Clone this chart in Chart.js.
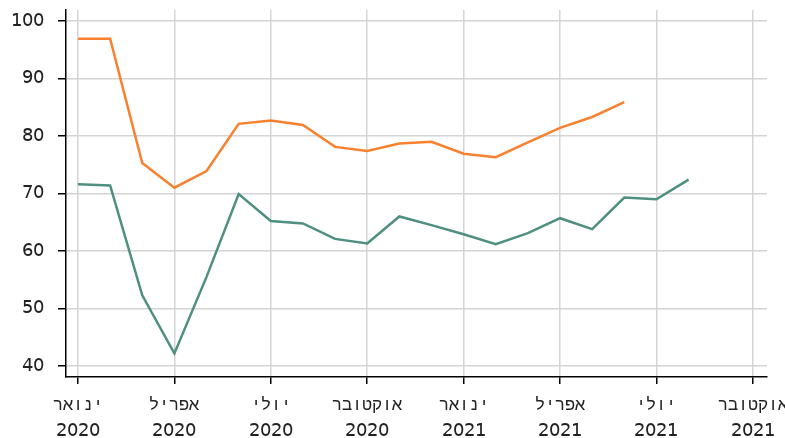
<!DOCTYPE html>
<html>
<head>
<meta charset="utf-8">
<script src="https://cdn.jsdelivr.net/npm/chart.js@4/dist/chart.umd.min.js"></script>
<style>
  /* Latin digits from DejaVu Sans, Hebrew letters from a monospaced face */
  @font-face {
    font-family: 'AxisFont';
    src: local('DejaVu Sans'), local('DejaVuSans');
    unicode-range: U+0000-024F;
  }
  @font-face {
    font-family: 'AxisFont';
    src: local('Liberation Mono'), local('LiberationMono');
    unicode-range: U+0590-05FF;
    size-adjust: 97%;
  }
  html, body { margin: 0; padding: 0; background: #fff; }
  #wrap { width: 785px; height: 438px; }
</style>
</head>
<body>
<div id="wrap"><canvas id="c" width="785" height="438"></canvas></div>
<script>
// Monthly observations, January 2020 onward (index 0 = January 2020)
const months = [
  '2020-01','2020-02','2020-03','2020-04','2020-05','2020-06','2020-07','2020-08','2020-09','2020-10','2020-11','2020-12',
  '2021-01','2021-02','2021-03','2021-04','2021-05','2021-06','2021-07','2021-08'
];
const orangeSeries = [96.9, 96.9, 75.3, 71.0, 73.9, 82.1, 82.7, 81.9, 78.1, 77.4, 78.7, 79.0, 76.9, 76.3, 78.9, 81.4, 83.3, 85.9];
const greenSeries  = [71.6, 71.4, 52.3, 42.2, 55.5, 69.9, 65.2, 64.8, 62.1, 61.3, 66.0, 64.5, 62.9, 61.2, 63.1, 65.7, 63.8, 69.3, 69.0, 72.4];

// Quarter ticks on the time axis
const xTickIndex  = [0, 3, 6, 9, 12, 15, 18, 21];
const xTickMonth  = ['ינואר', 'אפריל', 'יולי', 'אוקטובר', 'ינואר', 'אפריל', 'יולי', 'אוקטובר'];
const xTickYear   = ['2020', '2020', '2020', '2020', '2021', '2021', '2021', '2021'];
const yTicks      = [40, 50, 60, 70, 80, 90, 100];

const toPoints = arr => arr.map((v, i) => ({ x: i, y: v }));

const font = { family: '"AxisFont", "DejaVu Sans", sans-serif', size: 18, lineHeight: 1.45 };

// Fixed axis sizes, no extra room reserved for overhanging tick labels
const noPad = s => { s.paddingTop = 0; s.paddingBottom = 0; s.paddingLeft = 0; s.paddingRight = 0; };

function draw() {
  new Chart(document.getElementById('c'), {
    type: 'line',
    data: {
      datasets: [
        {
          data: toPoints(orangeSeries),
          borderColor: '#f7812f',
          borderWidth: 2.5,
          pointRadius: 0,
          tension: 0,
          fill: false
        },
        {
          data: toPoints(greenSeries),
          borderColor: '#4f8f80',
          borderWidth: 2.5,
          pointRadius: 0,
          tension: 0,
          fill: false
        }
      ]
    },
    options: {
      responsive: false,
      animation: false,
      layout: { autoPadding: false, padding: { top: 10, right: 18, left: 0, bottom: 0 } },
      plugins: { legend: { display: false }, tooltip: { enabled: false } },
      scales: {
        x: {
          type: 'linear',
          min: -0.373,
          max: 21.44,
          afterBuildTicks: s => { s.ticks = xTickIndex.map(v => ({ value: v })); },
          afterFit: s => { s.height = 61; noPad(s); },
          ticks: {
            color: '#222',
            font: font,
            padding: 8,
            maxRotation: 0,
            autoSkip: false,
            callback: v => {
              const k = xTickIndex.indexOf(v);
              return k >= 0 ? [xTickMonth[k], xTickYear[k]] : '';
            }
          },
          grid: { color: '#d4d4d4', lineWidth: 1.5, tickColor: '#000', tickLength: 7, tickWidth: 1.5 },
          border: { color: '#000', width: 1.5 }
        },
        y: {
          type: 'linear',
          min: 38.09,
          max: 101.9,
          afterBuildTicks: s => { s.ticks = yTicks.map(v => ({ value: v })); },
          afterFit: s => { s.width = 66; noPad(s); },
          ticks: { color: '#222', font: font, padding: 14 },
          grid: { color: '#d4d4d4', lineWidth: 1.5, tickColor: '#000', tickLength: 8, tickWidth: 1.5 },
          border: { color: '#000', width: 1.5 }
        }
      }
    }
  });
}

Promise.all([
  document.fonts.load('18px AxisFont', '0123456789'),
  document.fonts.load('18px AxisFont', 'ינואראפרליולקטוב')
]).then(draw, draw);
</script>
</body>
</html>
